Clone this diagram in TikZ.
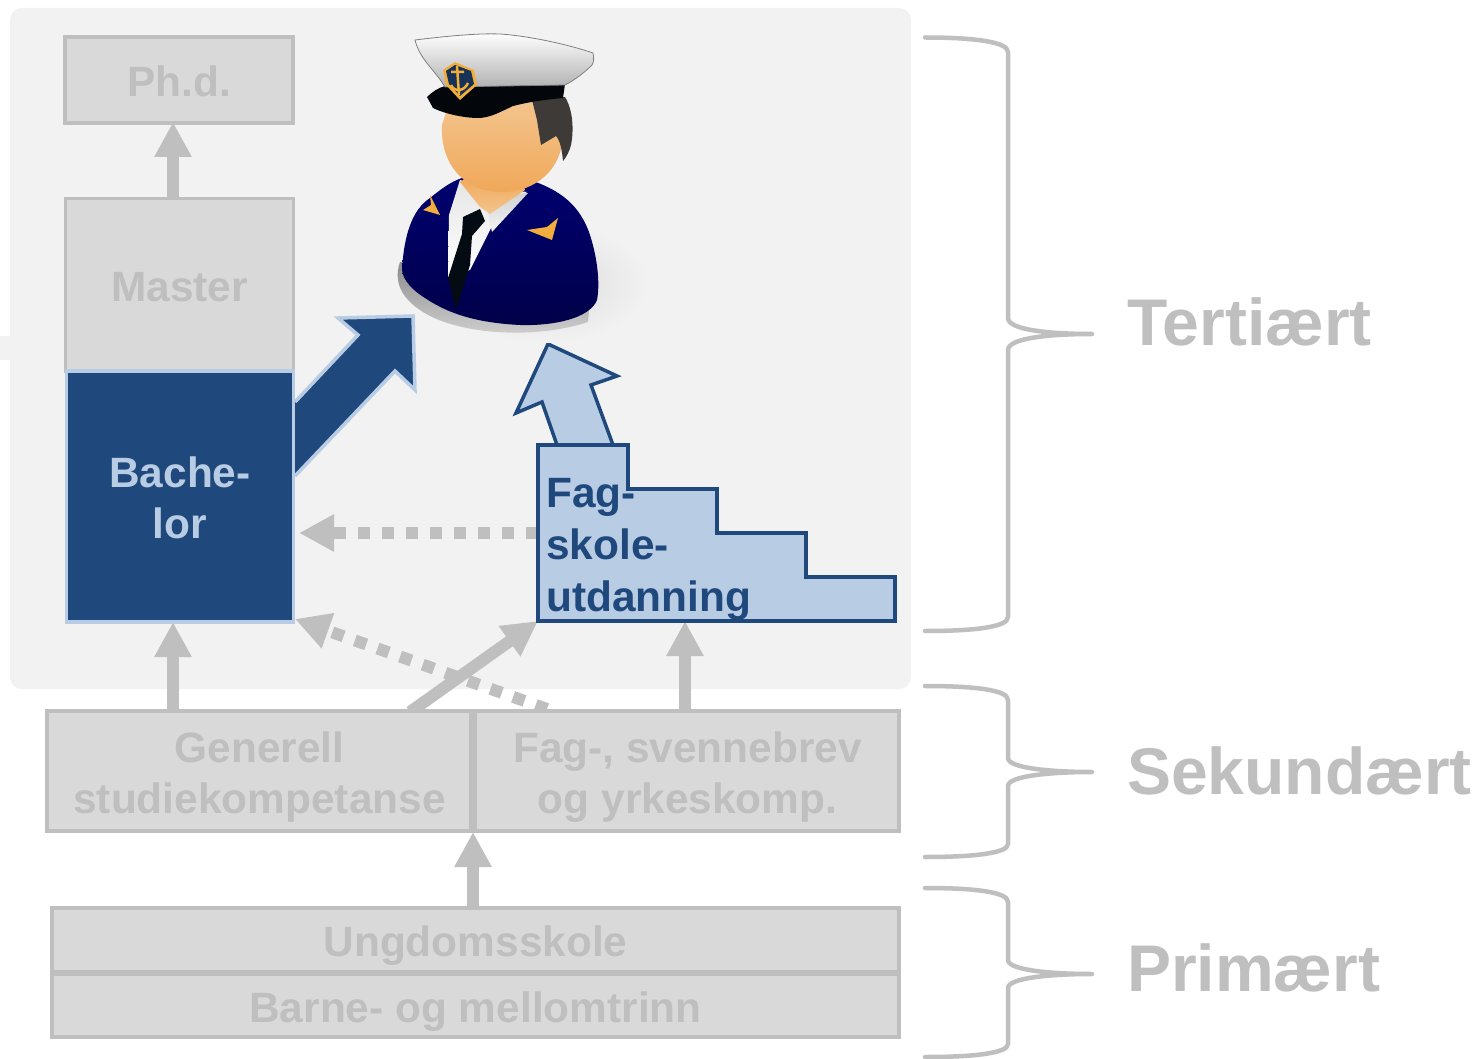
\documentclass[tikz,border=0pt]{standalone}
\usepackage{fontspec}
\setmainfont{Liberation Sans}
\usetikzlibrary{arrows.meta}
\definecolor{panelc}{HTML}{F2F2F2}
\definecolor{greyln}{HTML}{BFBFBF}
\definecolor{greyfl}{HTML}{D9D9D9}
\definecolor{navyc}{HTML}{1F497D}
\definecolor{paleb}{HTML}{B8CCE4}
\definecolor{suit}{HTML}{000070}
\definecolor{skinhi}{HTML}{F3C48E}
\definecolor{skinlo}{HTML}{F0A858}
\definecolor{hairc}{HTML}{3E3A38}
\definecolor{goldc}{HTML}{F2AE3C}
\tikzset{
  x=1pt,y=-1pt,
  greybox/.style={draw=greyln,fill=greyfl,line width=3.5pt,inner sep=0pt},
  greytext/.style={inner sep=0pt,text=greyln,align=center,font=\fontsize{42.4}{51}\selectfont\bfseries},
  bluebox/.style={draw=paleb,fill=navyc,line width=3.5pt,inner sep=0pt},
  bluetext/.style={inner sep=0pt,text=paleb,align=center,font=\fontsize{42.4}{51}\selectfont\bfseries},
  stairtext/.style={inner sep=0pt,text=navyc,align=left,font=\fontsize{42.4}{52}\selectfont\bfseries},
  levellabel/.style={inner sep=0pt,text=greyln,font=\fontsize{66}{70}\selectfont\bfseries,anchor=base west},
  grey arrow/.style={draw=greyln,line width=12pt,-{Triangle[length=35pt,width=35pt]}},
  dotted arrow/.style={grey arrow,dash pattern=on 12pt off 12pt},
  brace line/.style={draw=greyln,line width=4.5pt,line cap=round,line join=round},
}
\begin{document}
\begin{tikzpicture}
\useasboundingbox (0,0) rectangle (1481,1059);
\fill[white] (0,0) rectangle (1481,1059);
% panel
\fill[panelc] (0,336) rectangle (12,360);
\fill[panelc,rounded corners=12pt] (10,8) rectangle (911,689);
% named anchors for connectors
\coordinate (phdIn) at (173,122);
\coordinate (masOut) at (173,198);
\coordinate (bacIn) at (173,622);
\coordinate (genOut) at (173,711);
\coordinate (fagIn) at (685,621);
\coordinate (fagOut) at (685,711);
\coordinate (ungOut) at (473,908);
\coordinate (secIn) at (473,832);
\coordinate (genDiag) at (410,712);
\coordinate (fagCorner) at (538,621);
\coordinate (fagDot) at (538,533);
\coordinate (bacDot) at (299,533);
\coordinate (fagDiag) at (547,709);
\coordinate (bacCorner) at (295,619);
% grey connectors
\draw[grey arrow] (masOut) -- (phdIn);
\draw[grey arrow] (genOut) -- (bacIn);
\draw[grey arrow] (fagOut) -- (fagIn);
\draw[grey arrow] (ungOut) -- (secIn);
\draw[dotted arrow] (fagDiag) -- (bacCorner);
\draw[grey arrow] (genDiag) -- (fagCorner);
\draw[dotted arrow] (fagDot) -- (bacDot);
% boxes
\node[greybox,minimum width=228pt,minimum height=86pt] (phd) at (179,80) {};
\node[greytext] (phdt) at (179,81) {Ph.d.};
\node[greybox,minimum width=228pt,minimum height=173pt] (master) at (179.5,285) {};
\node[greytext] (mastert) at (179.5,287) {Master};
% blue arrow to the officer
\draw[fill=navyc,draw=paleb,line width=3.5pt,miter limit=10] (295,402) -- (358,335) -- (338,318) -- (413,316) -- (415,390) -- (395,371) -- (295,476);
\node[bluebox,minimum width=227pt,minimum height=251pt] (bach) at (180,496.5) {};
\node[bluetext] (bacht) at (180,497.5) {Bache-\\lor};
\node[greybox,minimum width=424pt,minimum height=120pt] (gen) at (259,771) {};
\node[greytext] (gent) at (259.5,777) {Generell\\studiekompetanse};
\node[greybox,minimum width=424pt,minimum height=120pt] (fagb) at (687,771) {};
\node[greytext] (fagbt) at (687.5,777) {Fag-, svennebrev\\og yrkeskomp.};
\node[greybox,minimum width=847pt,minimum height=64pt] (ung) at (475.5,940) {};
\node[greytext] (ungt) at (475.5,946) {Ungdomsskole};
\node[greybox,minimum width=847pt,minimum height=63pt] (bar) at (475.5,1005.5) {};
\node[greytext] (bart) at (475.5,1012) {Barne- og mellomtrinn};
% stairs
\draw[fill=paleb,draw=navyc,line width=3.5pt,line join=miter] (557,445) -- (542,402) -- (516,413) -- (548,344) -- (617,376) -- (591,385) -- (613,445);
\draw[fill=paleb,draw=navyc,line width=3.5pt] (538,445) -- (628,445) -- (628,489) -- (717,489) -- (717,533) -- (806,533) -- (806,577) -- (895,577) -- (895,621) -- (538,621) -- cycle;
\node[stairtext,anchor=base west] (fagt) at (546,611) {Fag-\\skole-\\utdanning};
% braces
\draw[brace line] (925,37.5) .. controls (975,37.5) and (1008,42) .. (1008,52) -- (1008,318) .. controls (1008,330) and (1050,334) .. (1092,334) .. controls (1050,334) and (1008,338) .. (1008,350) -- (1008,617) .. controls (1008,627) and (975,631) .. (925,631);
\draw[brace line] (925,686) .. controls (975,686) and (1008,690) .. (1008,700) -- (1008,758) .. controls (1008,768) and (1050,772) .. (1092,772) .. controls (1050,772) and (1008,776) .. (1008,786) -- (1008,844) .. controls (1008,853) and (975,857) .. (925,857);
\draw[brace line] (925,888) .. controls (975,888) and (1008,892) .. (1008,902) -- (1008,960) .. controls (1008,970) and (1050,974) .. (1092,974) .. controls (1050,974) and (1008,978) .. (1008,988) -- (1008,1044) .. controls (1008,1053) and (975,1057) .. (925,1057);
\node[levellabel] (ter) at (1127,346) {Tertiært};
\node[levellabel] (sek) at (1127,794) {Sekundært};
\node[levellabel] (pri) at (1127,991) {Primært};
% officer
\shade[inner color=black!14,outer color=panelc] (545,283) ellipse [x radius=105,y radius=60];
\shade[top color=black!45,bottom color=black!18] (400,262) .. controls (392,285) and (405,303) .. (430,316) .. controls (470,336) and (540,338) .. (588,322) -- (590,300) -- cycle;
\shade[top color=suit,bottom color=suit!65!black] (402,270) .. controls (404,235) and (412,210) .. (430,198) .. controls (440,190) and (450,182) .. (462,178) -- (530,180) .. controls (560,190) and (580,205) .. (590,235) .. controls (598,260) and (600,285) .. (597,300) .. controls (590,318) and (555,326) .. (520,325) .. controls (480,323) and (450,315) .. (425,298) .. controls (412,290) and (403,280) .. (402,270) -- cycle;
\shade[top color=black!10,bottom color=white] (460,180) -- (449,215) -- (448,277) -- (470,270) -- (495,220) -- (527,192) -- (495,188) -- cycle;
\shade[top color=black!18,bottom color=black!4] (488,213) -- (492,232) -- (528,193) -- (505,195) -- cycle;
\fill[black!85!navyc] (463,217) -- (480,209) -- (485,221) -- (472,236) -- (470,265) -- (456,310) -- (448,278) -- (462,234) -- cycle;
\shade[top color=skinlo,bottom color=skinhi] (460,182) -- (480,207) -- (490,214) -- (525,190) -- (520,175) -- (470,175) -- cycle;
\shade[top color=skinhi,bottom color=skinlo] (442,125) .. controls (440,165) and (465,193) .. (505,192) .. controls (535,191) and (562,170) .. (563,135) -- (555,100) -- (450,100) -- cycle;
\fill[hairc] (532,100) -- (565,97) .. controls (573,110) and (574,130) .. (571,145) .. controls (570,150) and (566,158) .. (563,161) .. controls (562,150) and (560,140) .. (556,136) -- (541,145) -- (537,120) -- cycle;
\fill[goldc] (430,195) -- (440,215) -- (423,210) -- (431,205) -- cycle;
\fill[goldc] (558,218) -- (552,240) -- (527,230) -- (547,227) -- cycle;
\fill[black!90!navyc] (427,97) .. controls (432,92) and (438,88) .. (445,86) -- (565,84) -- (563,98) .. controls (540,100) and (525,103) .. (513,106) .. controls (500,112) and (490,118) .. (478,118) .. controls (465,118) and (445,114) .. (433,108) -- cycle;
\shade[top color=white,bottom color=black!30,draw=black!50,line width=.8pt] (415,40) .. controls (440,37) and (475,33) .. (500,34) .. controls (530,36) and (570,45) .. (593,53) .. controls (594,58) and (594,62) .. (592,65) .. controls (585,72) and (575,80) .. (565,85) -- (445,87) .. controls (435,70) and (420,60) .. (415,40) -- cycle;
\fill[goldc] (443,70) -- (455,62) -- (474,70) -- (477,85) -- (460,100) -- (446,85) -- cycle;
\fill[navyc!70!black] (446,71) -- (455,65) -- (471,71) -- (474,84) -- (460,96) -- (449,84) -- cycle;
\draw[goldc,line width=2.5pt] (457,66) -- (459,95) (451,72) -- (464,72) (451,85) .. controls (454,92) and (464,92) .. (468,83);
\end{tikzpicture}
\end{document}
